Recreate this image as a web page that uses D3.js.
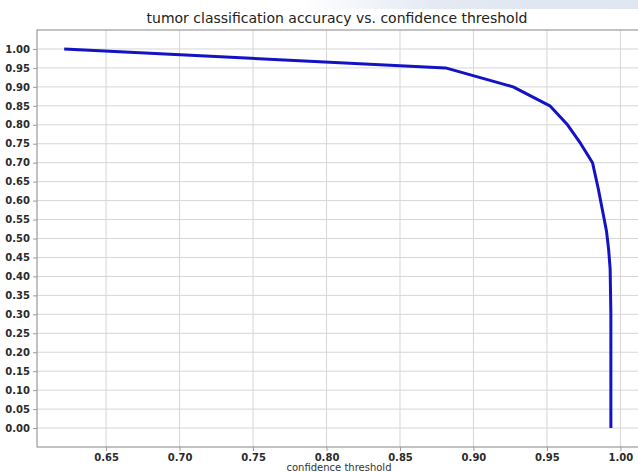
<!DOCTYPE html>
<html>
<head>
<meta charset="utf-8">
<script src="https://cdn.jsdelivr.net/npm/d3@7"></script>
<style>
  html, body { margin: 0; padding: 0; background: #fff; }
  svg { display: block; }
</style>
</head>
<body>
<script>
// threshold (x) and accuracy (y)
const thresholds = [0.6215, 0.881, 0.927, 0.952, 0.964, 0.973, 0.981, 0.985, 0.988, 0.9905, 0.992, 0.993, 0.9935, 0.9935];
const accuracy = [1.00, 0.95, 0.90, 0.85, 0.80, 0.75, 0.70, 0.63, 0.57, 0.52, 0.47, 0.42, 0.30, 0.00];
const xTicks = [0.65, 0.70, 0.75, 0.80, 0.85, 0.90, 0.95, 1.00];
const yTicks = d3.range(0, 21).map((i) => i * 0.05);

const width = 638;
const height = 472;
const margin = { top: 30, right: -3, bottom: 25, left: 37 };

const svg = d3.select("body")
    .append("svg")
    .attr("width", width)
    .attr("height", height);

// faint band from the photographed page
const defs = svg.append("defs");
const grad = defs.append("linearGradient")
    .attr("id", "band")
    .attr("x1", 0).attr("x2", 1).attr("y1", 0).attr("y2", 0);
grad.append("stop").attr("offset", "0").attr("stop-color", "#e4e9f3").attr("stop-opacity", 0);
grad.append("stop").attr("offset", "0.4").attr("stop-color", "#e4e9f3").attr("stop-opacity", 1);
grad.append("stop").attr("offset", "1").attr("stop-color", "#dfe6f2").attr("stop-opacity", 1);
svg.append("rect")
    .attr("x", 300).attr("y", 0)
    .attr("width", width - 300).attr("height", 9)
    .attr("fill", "url(#band)");

const x = d3.scaleLinear()
    .domain([0.603, 1.014])
    .range([margin.left, width - margin.right]);

const y = d3.scaleLinear()
    .domain([-0.05, 1.05])
    .range([height - margin.bottom, margin.top]);

const plot = svg.append("g");

// grid
plot.append("g")
    .selectAll("line")
    .data(yTicks)
    .join("line")
    .attr("x1", margin.left)
    .attr("x2", width - margin.right)
    .attr("y1", (d) => y(d))
    .attr("y2", (d) => y(d))
    .attr("stroke", "#d6d6d6")
    .attr("stroke-width", 1);

plot.append("g")
    .selectAll("line")
    .data(xTicks)
    .join("line")
    .attr("x1", (d) => x(d))
    .attr("x2", (d) => x(d))
    .attr("y1", margin.top)
    .attr("y2", height - margin.bottom)
    .attr("stroke", "#d6d6d6")
    .attr("stroke-width", 1);

// frame
plot.append("rect")
    .attr("x", margin.left)
    .attr("y", margin.top)
    .attr("width", width - margin.right - margin.left)
    .attr("height", height - margin.bottom - margin.top)
    .attr("fill", "none")
    .attr("stroke", "#9a9a9a")
    .attr("stroke-width", 1.2);

// axes
const xAxis = svg.append("g")
    .attr("transform", `translate(0,${height - margin.bottom})`)
    .call(d3.axisBottom(x).tickValues(xTicks).tickFormat(d3.format(".2f")).tickSize(4).tickPadding(2.5));

const yAxis = svg.append("g")
    .attr("transform", `translate(${margin.left},0)`)
    .call(d3.axisLeft(y).tickValues(yTicks).tickFormat(d3.format(".2f")).tickSize(4).tickPadding(3));

[xAxis, yAxis].forEach((g) => {
  g.select(".domain").remove();
  g.selectAll(".tick line").attr("stroke", "#9a9a9a");
  g.selectAll(".tick text")
      .attr("fill", "#2a2a2a")
      .style("font-family", "DejaVu Sans")
      .style("font-weight", "bold")
      .style("font-size", "10px");
});

// curve
const line = d3.line()
    .x((d) => x(d[0]))
    .y((d) => y(d[1]));

svg.append("path")
    .datum(d3.zip(thresholds, accuracy))
    .attr("d", line)
    .attr("fill", "none")
    .attr("stroke", "#1313c4")
    .attr("stroke-width", 3)
    .attr("stroke-linejoin", "round")
    .attr("stroke-linecap", "butt");

// title and label
svg.append("text")
    .attr("x", 337)
    .attr("y", 23)
    .attr("text-anchor", "middle")
    .style("font-family", "DejaVu Sans")
    .style("font-size", "14px")
    .attr("fill", "#222")
    .text("tumor classification accuracy vs. confidence threshold");

svg.append("text")
    .attr("x", 339)
    .attr("y", 471)
    .attr("text-anchor", "middle")
    .style("font-family", "DejaVu Sans")
    .style("font-size", "10px")
    .attr("fill", "#333")
    .text("confidence threshold");
</script>
</body>
</html>
